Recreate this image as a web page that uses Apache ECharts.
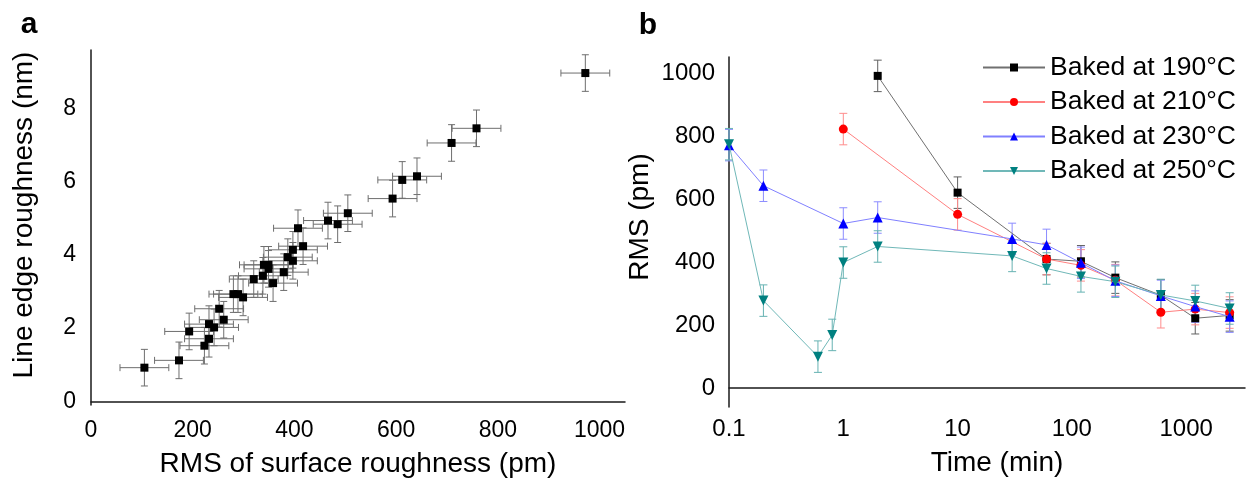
<!DOCTYPE html>
<html>
<head>
<meta charset="utf-8">
<script src="https://cdn.jsdelivr.net/npm/echarts@6/dist/echarts.min.js"></script>
<style>
html,body{margin:0;padding:0;background:#fff;}
#c{width:1254px;height:480px;}
</style>
</head>
<body>
<div id="c"></div>
<script>
// Panel a: surface roughness (pm) vs line edge roughness (nm)
const surfRMS = [105,173,193,223,232,232,242,261,252,280,289,299,320,338,358,340,349,349,379,387,397,397,417,407,466,485,505,593,612,641,709,758,972];
const lerVals = [0.92,1.12,1.91,1.52,1.71,2.11,2.02,2.23,2.53,2.93,2.93,2.84,3.34,3.43,3.23,3.73,3.73,3.62,3.53,3.94,3.84,4.14,4.24,4.73,4.94,4.84,5.14,5.54,6.05,6.15,7.06,7.46,8.97];
const errSurf = 48;   // pm
const errLer = 0.5;   // nm

// Panel b: RMS vs baking time
const times  = [0.1, 0.2, 0.6, 0.8, 1, 2, 10, 30, 60, 120, 240, 600, 1200, 2400];
const rms190 = [null,null,null,null,null,992,621,null,410,403,351,295,222,231];
const rms210 = [null,null,null,null,823,null,552,null,410,390,343,241,251,240];
const rms230 = [772,643,null,null,523,542,null,474,455,398,341,293,259,227];
const rms250 = [775,278,100,169,399,450,null,420,380,355,338,296,277,253];
const errRms = 50;
const seriesNames = ['Baked at 190°C','Baked at 210°C','Baked at 230°C','Baked at 250°C'];

const FONT = 'Liberation Sans, Arial, sans-serif';
const chart = echarts.init(document.getElementById('c'));

function pairs(vals){
  const out=[];
  vals.forEach((v,i)=>{ if(v!==null) out.push([times[i], v]); });
  return out;
}
const scatterData = surfRMS.map((v,i)=>[v, lerVals[i]]);

function errA(params, api){
  const x=api.value(0), y=api.value(1);
  const l=api.coord([x-errSurf,y]), r=api.coord([x+errSurf,y]);
  const t=api.coord([x,y+errLer]), b=api.coord([x,y-errLer]);
  const cap=3.5;
  const st={stroke:'#6e6e6e', lineWidth:1};
  return {type:'group', children:[
    {type:'line', shape:{x1:l[0],y1:l[1],x2:r[0],y2:r[1]}, style:st},
    {type:'line', shape:{x1:l[0],y1:l[1]-cap,x2:l[0],y2:l[1]+cap}, style:st},
    {type:'line', shape:{x1:r[0],y1:r[1]-cap,x2:r[0],y2:r[1]+cap}, style:st},
    {type:'line', shape:{x1:t[0],y1:t[1],x2:b[0],y2:b[1]}, style:st},
    {type:'line', shape:{x1:t[0]-cap,y1:t[1],x2:t[0]+cap,y2:t[1]}, style:st},
    {type:'line', shape:{x1:b[0]-cap,y1:b[1],x2:b[0]+cap,y2:b[1]}, style:st}
  ]};
}
function errB(color){
  return function(params, api){
    const x=api.value(0), y=api.value(1);
    const t=api.coord([x,y+errRms]), b=api.coord([x,y-errRms]);
    const cap=4;
    const st={stroke:color, lineWidth:1};
    return {type:'group', children:[
      {type:'line', shape:{x1:t[0],y1:t[1],x2:b[0],y2:b[1]}, style:st},
      {type:'line', shape:{x1:t[0]-cap,y1:t[1],x2:t[0]+cap,y2:t[1]}, style:st},
      {type:'line', shape:{x1:b[0]-cap,y1:b[1],x2:b[0]+cap,y2:b[1]}, style:st}
    ]};
  };
}

const markerColors = ['#000000','#ff0000','#0000ff','#008080'];
const lineColors   = ['#707070','#ff8080','#8080ff','#70b8b8'];
const errColors    = ['#606060','#ff8c8c','#8c8cff','#66b2b2'];
const symbols      = ['rect','circle','triangle','triangle'];
const symSizes     = [8,9,10,10];
const symRot       = [0,0,0,180];
const bSeriesVals  = [rms190, rms210, rms230, rms250];

const series = [
  {type:'custom', xAxisIndex:0, yAxisIndex:0, renderItem:errA, data:scatterData, z:1, silent:true},
  {type:'scatter', xAxisIndex:0, yAxisIndex:0, data:scatterData, symbol:'rect', symbolSize:8,
   itemStyle:{color:'#000', opacity:1}, z:3}
];
bSeriesVals.forEach((vals,k)=>{
  series.push({type:'custom', xAxisIndex:1, yAxisIndex:1, renderItem:errB(errColors[k]), data:pairs(vals), z:1, silent:true});
});
bSeriesVals.forEach((vals,k)=>{
  series.push({type:'line', name:seriesNames[k], xAxisIndex:1, yAxisIndex:1, data:pairs(vals),
    symbol:symbols[k], symbolSize:symSizes[k], symbolRotate:symRot[k], showAllSymbol:true,
    lineStyle:{color:lineColors[k], width:1}, itemStyle:{color:markerColors[k], opacity:1}, z:3+k, animation:false});
});

const axisLine = {show:true, lineStyle:{color:'#1a1a1a', width:1.5}};

chart.setOption({
  animation:false,
  backgroundColor:'#fff',
  textStyle:{fontFamily:FONT},
  grid:[
    {left:91, top:50, width:534, height:355},
    {left:729, top:57, width:516, height:350}
  ],
  xAxis:[
    {type:'value', gridIndex:0, min:0, max:1050, interval:200,
     axisLine:axisLine, axisTick:{show:false}, splitLine:{show:false},
     axisLabel:{fontSize:23, color:'#000', margin:14, fontFamily:FONT,
       formatter:v=> (v%200===0 && v<=1000) ? String(v) : ''}},
    {type:'log', gridIndex:1, min:0.1, max:3270, logBase:10,
     axisLine:axisLine, axisTick:{show:false}, splitLine:{show:false}, minorTick:{show:false},
     axisLabel:{fontSize:24, color:'#000', margin:10, fontFamily:FONT, showMaxLabel:false,
       formatter:v=>{const l=Math.log10(v); return Math.abs(l-Math.round(l))<1e-6 ? String(+v.toPrecision(6)) : '';}}}
  ],
  yAxis:[
    {type:'value', gridIndex:0, min:-0.1, max:9.6,
     axisLine:axisLine, axisTick:{show:false}, splitLine:{show:false},
     axisLabel:{fontSize:23, color:'#000', margin:15, fontFamily:FONT,
       formatter:v=>{const r=Math.round(v); return (Math.abs(v-r)<1e-6 && r%2===0 && r>=0) ? String(r) : '';}}},
    {type:'value', gridIndex:1, min:-60, max:1052,
     axisLine:axisLine, axisTick:{show:false}, splitLine:{show:false},
     axisLabel:{fontSize:24, color:'#000', margin:14, fontFamily:FONT,
       formatter:v=>{const r=Math.round(v); return (Math.abs(v-r)<1e-6 && r%200===0 && r>=0 && r<=1000) ? String(r) : '';}}}
  ],
  legend:{
    orient:'vertical', left:977, top:49, itemWidth:62, itemHeight:10, itemGap:7.5,
    data:seriesNames,
    textStyle:{fontSize:26.5, color:'#000', fontFamily:FONT, lineHeight:27}
  },
  graphic:[
    {type:'text', x:29, y:25, style:{text:'a', font:'bold 30px '+FONT, fill:'#000', align:'center', verticalAlign:'middle'}},
    {type:'text', x:648, y:26, style:{text:'b', font:'bold 30px '+FONT, fill:'#000', align:'center', verticalAlign:'middle'}},
    {type:'text', x:24, y:215, rotation:Math.PI/2, style:{text:'Line edge roughness (nm)', font:'28px '+FONT, fill:'#000', align:'center', verticalAlign:'middle'}},
    {type:'text', x:358, y:464, style:{text:'RMS of surface roughness (pm)', font:'28px '+FONT, fill:'#000', align:'center', verticalAlign:'middle'}},
    {type:'text', x:640, y:217, rotation:Math.PI/2, style:{text:'RMS (pm)', font:'28px '+FONT, fill:'#000', align:'center', verticalAlign:'middle'}},
    {type:'text', x:997, y:463, style:{text:'Time (min)', font:'28px '+FONT, fill:'#000', align:'center', verticalAlign:'middle'}}
  ],
  series:series
});
</script>
</body>
</html>
